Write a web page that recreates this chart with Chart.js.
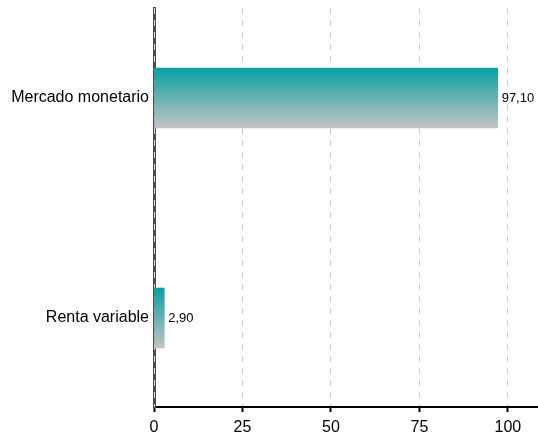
<!DOCTYPE html>
<html>
<head>
<meta charset="utf-8">
<script src="https://cdn.jsdelivr.net/npm/chart.js@4"></script>
<style>
html,body{margin:0;padding:0;background:#fff;}
#wrap{width:538px;height:434px;position:relative;}
</style>
</head>
<body>
<div id="wrap"><canvas id="c"></canvas></div>
<script>
const categories = ["Mercado monetario", "Renta variable"];
const values = [97.10, 2.90];
const xTicks = [0, 25, 50, 75, 100];

const FONT = "'Liberation Sans', Arial, sans-serif";
const points = values.map((v, i) => ({x: v, y: i}));

function fmt(v){ return v.toFixed(2).replace('.', ','); }

const labelPlugin = {
  id: 'valLabels',
  beforeDatasetsDraw(chart){
    const ctx = chart.ctx;
    const xs = chart.scales.x;
    const a = chart.chartArea;
    const x0 = Math.round(xs.getPixelForValue(0)) + 0.5;
    ctx.save();
    ctx.strokeStyle = '#d8d8d8';
    ctx.lineWidth = 1;
    ctx.setLineDash([6, 6]);
    ctx.beginPath();
    ctx.moveTo(x0, a.top);
    ctx.lineTo(x0, a.bottom);
    ctx.stroke();
    ctx.restore();
  },
  afterDatasetsDraw(chart){
    const ctx = chart.ctx;
    const meta = chart.getDatasetMeta(0);
    ctx.save();
    ctx.font = "13px " + FONT;
    ctx.fillStyle = '#000';
    ctx.textBaseline = 'middle';
    ctx.textAlign = 'left';
    meta.data.forEach((el, i) => {
      ctx.fillText(fmt(values[i]), el.x + 4, el.y);
    });
    ctx.restore();
  }
};

new Chart(document.getElementById('c'), {
  type: 'bar',
  data: {
    datasets: [{
      data: points,
      barThickness: 60,
      borderWidth: 0,
      backgroundColor: function(c){
        const chart = c.chart;
        const ys = chart.scales && chart.scales.y;
        if (!ys || !c.raw) return '#0a9ea0';
        const cy = ys.getPixelForValue(c.raw.y);
        if (!isFinite(cy)) return '#0a9ea0';
        const g = chart.ctx.createLinearGradient(0, cy - 30, 0, cy + 30);
        g.addColorStop(0, '#08a0a2');
        g.addColorStop(1, '#c4c4c4');
        return g;
      }
    }]
  },
  options: {
    indexAxis: 'y',
    responsive: true,
    maintainAspectRatio: false,
    animation: false,
    layout: {padding: {top: 8, right: 0, left: 0, bottom: 0}},
    plugins: {legend: {display: false}, tooltip: {enabled: false}},
    scales: {
      x: {
        type: 'linear',
        min: 0,
        max: 108.5,
        afterBuildTicks(s){ s.ticks = xTicks.map(v => ({value: v})); },
        afterFit(s){ s.height = 27; s.paddingLeft = 0; s.paddingRight = 0; },
        grid: {
          color: '#cccccc',
          lineWidth: 1,
          tickColor: '#000',
          tickWidth: 2,
          tickLength: 5,
          drawTicks: true
        },
        border: {display: true, color: '#000', width: 2, dash: [6, 6]},
        ticks: {color: '#000', font: {family: FONT, size: 16}, padding: 6, maxRotation: 0}
      },
      y: {
        type: 'linear',
        z: -1,
        offset: false,
        reverse: true,
        min: -0.409,
        max: 1.4045,
        afterBuildTicks(s){ s.ticks = categories.map((_, i) => ({value: i})); },
        afterFit(s){ s.width = 154; s.paddingTop = 0; s.paddingBottom = 0; },
        border: {display: true, color: '#4a4a4a', width: 3},
        grid: {display: false, drawTicks: false},
        ticks: {
          color: '#000',
          font: {family: FONT, size: 16},
          padding: 5,
          callback: v => categories[v] !== undefined ? categories[v] : ''
        }
      }
    }
  },
  plugins: [labelPlugin]
});
</script>
</body>
</html>
